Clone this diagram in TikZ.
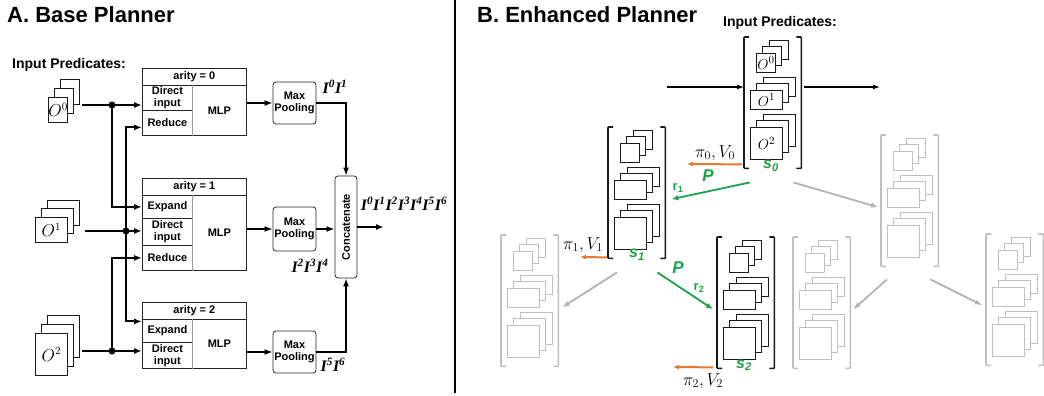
\documentclass[tikz,border=0pt]{standalone}
\usepackage{fontspec}
\setmainfont{Liberation Sans}
\newfontfamily\timesfont{Liberation Serif}
\usetikzlibrary{positioning, arrows.meta, shapes}
\definecolor{plangreen}{HTML}{1AA34A}
\definecolor{planorange}{HTML}{E6782F}
\tikzstyle{arrow} = [line width=2pt,-{Latex[length=8pt,width=6pt]}]

% a pile of three predicate sheets
\newcommand{\pagestack}[9]{%
  \foreach \k in {2,1} {
    \draw[#1, page] ({#3+\k*#7},{#4-\k*#8}) rectangle ++(#5,#6);
  }
  \node[#1, page, anchor=north west, minimum width=#5, minimum height=#6] (#2) at ({#3},{#4}) {#9};
}

% a state: brackets round three piles
\newcommand{\statebox}[7]{%
  \node[inner sep=0, minimum width=57, minimum height=131, anchor=north west] (#2) at ({#3},{#4}) {};
  \draw[#1, bracket] ([xshift=5pt]#2.north west) -- (#2.north west) -- (#2.south west) -- ([xshift=5pt]#2.south west);
  \draw[#1, bracket] ([xshift=-5pt]#2.north east) -- (#2.north east) -- (#2.south east) -- ([xshift=-5pt]#2.south east);
  \pagestack{#1}{#2a}{#3+12}{#4+16}{19}{19}{6.5}{6.5}{#5}
  \pagestack{#1}{#2b}{#3+6}{#4+53}{32}{19}{6.5}{6.5}{#6}
  \pagestack{#1}{#2c}{#3+6}{#4+90}{32}{32}{6.5}{6.5}{#7}
}

\begin{document}
\begin{tikzpicture}[x=1pt, y=-1pt, font=\bfseries\fontsize{11}{12}\selectfont]
    \tikzstyle{cell} = [draw=black!85, line width=0.8pt, inner sep=0, anchor=north west, align=center]
    \tikzstyle{pool} = [draw=black!85, line width=0.8pt, rounded corners=3pt, inner sep=0, minimum width=43, minimum height=42, align=center]
    \tikzstyle{page} = [fill=white, line width=0.8pt, inner sep=0]
    \tikzstyle{bracket} = [line width=1.6pt, rounded corners=0.8pt]
    \tikzstyle{inA} = [draw=black!90, font=\fontsize{16}{16}\selectfont]
    \tikzstyle{bkstate} = [draw=black!90, font=\fontsize{15}{15}\selectfont]
    \tikzstyle{grstate} = [draw=gray!50]
    \tikzstyle{title} = [anchor=base west, inner sep=0, font=\bfseries\fontsize{22}{22}\selectfont]
    \tikzstyle{inlbl} = [anchor=base west, inner sep=0, font=\bfseries\fontsize{14}{14}\selectfont]
    \tikzstyle{ilabel} = [inner sep=0, font=\timesfont\bfseries\itshape\fontsize{16}{16}\selectfont]
    \tikzstyle{mathlbl} = [inner sep=0, font=\fontsize{17}{17}\selectfont]
    \tikzstyle{plbl} = [inner sep=0, text=plangreen, font=\bfseries\itshape\fontsize{17}{17}\selectfont]
    \tikzstyle{slbl} = [inner sep=0, text=plangreen, font=\bfseries\itshape\fontsize{16}{16}\selectfont]
    \tikzstyle{rlbl} = [inner sep=0, text=plangreen, font=\bfseries\fontsize{13}{13}\selectfont]
    \tikzstyle{barrow} = [line width=1.2pt, -{Latex[length=7pt,width=5pt]}]
    \tikzstyle{oarrow} = [planorange, line width=2pt, -{Latex[length=6pt,width=5pt]}]
    \tikzstyle{garrow} = [plangreen, line width=1.8pt, -{Latex[length=7pt,width=5.5pt]}]
    \tikzstyle{grarrow} = [gray!60, line width=1.8pt, -{Latex[length=7pt,width=5.5pt]}]

    \useasboundingbox (0,0) rectangle (1044,396);

    % A. base planner
    \node[title] (titleA) at (7,23) {A. Base Planner};
    \node[inlbl] (inpA) at (12,69) {Input Predicates:};

    \pagestack{inA}{o0}{48}{97}{19}{25}{6}{9}{$O^0$}
    \pagestack{inA}{o1}{35}{217}{32}{25}{6.3}{8.5}{$O^1$}
    \pagestack{inA}{o2}{35}{333}{32}{42}{6.3}{8.7}{$O^2$}

    \node[cell, minimum width=104, minimum height=17] (h0) at (142,68) {arity = 0};
    \node[cell, minimum width=50, minimum height=25] (di0) at (142,85) {Direct\\input};
    \node[cell, minimum width=50, minimum height=25] (rd0) at (142,110) {Reduce};
    \node[cell, minimum width=54, minimum height=50] (mlp0) at (192,85) {MLP};

    \node[cell, minimum width=104, minimum height=17] (h1) at (142,178) {arity = 1};
    \node[cell, minimum width=50, minimum height=23] (ex1) at (142,195) {Expand};
    \node[cell, minimum width=50, minimum height=27] (di1) at (142,218) {Direct\\input};
    \node[cell, minimum width=50, minimum height=25] (rd1) at (142,245) {Reduce};
    \node[cell, minimum width=54, minimum height=75] (mlp1) at (192,195) {MLP};

    \node[cell, minimum width=104, minimum height=17] (h2) at (142,302) {arity = 2};
    \node[cell, minimum width=50, minimum height=23] (ex2) at (142,319) {Expand};
    \node[cell, minimum width=50, minimum height=26] (di2) at (142,342) {Direct\\input};
    \node[cell, minimum width=54, minimum height=49] (mlp2) at (192,319) {MLP};

    \foreach \m in {mlp0,mlp1,mlp2}
        \draw[gray!80, line width=1pt] (\m.north west) -- (\m.south west);

    \node[pool] (mp0) at (294.5,103) {Max\\Pooling};
    \node[pool, minimum height=44] (mp1) at (294.5,229) {Max\\Pooling};
    \node[pool] (mp2) at (294.5,352) {Max\\Pooling};
    \node[pool, minimum width=22, minimum height=102] (cat) at (346,227) {\rotatebox{90}{Concatenate}};

    \coordinate (i0) at (82,105);
    \coordinate (i1) at (85,231);
    \coordinate (i2) at (82,351);
    \coordinate (d0) at (112,105);
    \coordinate (d1) at (126,231);
    \coordinate (d2) at (112,351);
    \coordinate (catout) at (384,227);

    \draw[arrow] (i0) -- (di0.west |- i0);
    \draw[arrow] (d0) |- (ex1.west);
    \draw[arrow] (i1) -- (di1.west |- i1);
    \draw[arrow] (d1) |- ([yshift=-4.5pt]rd0.west);
    \draw[arrow] (d1) |- ([yshift=9.5pt]ex2.west);
    \draw[arrow] (i2) -- (di2.west |- i2);
    \draw[arrow] (d2) |- (rd1.west);
    \foreach \d in {d0,d1,d2}
        \fill (\d) circle (3.5pt);

    \draw[arrow] (mlp0.east |- mp0) -- (mp0.west);
    \draw[arrow] (mlp1.east |- mp1) -- (mp1.west);
    \draw[arrow] (mlp2.east |- mp2) -- (mp2.west);
    \draw[arrow] (mp0.east) -| (cat.north);
    \draw[arrow] (mp1.east) -- (cat.west |- mp1);
    \draw[arrow] (mp2.east) -| (cat.south);
    \draw[arrow] (cat.east) -- (catout);

    \node[ilabel] (lab0) at (335,87) {I\textsuperscript{0}I\textsuperscript{1}};
    \node[ilabel] (lab1) at (310,266) {I\textsuperscript{2}I\textsuperscript{3}I\textsuperscript{4}};
    \node[ilabel] (lab2) at (333,365) {I\textsuperscript{5}I\textsuperscript{6}};
    \node[ilabel] (labout) at (404,204) {I\textsuperscript{0}I\textsuperscript{1}I\textsuperscript{2}I\textsuperscript{3}I\textsuperscript{4}I\textsuperscript{5}I\textsuperscript{6}};

    \draw[line width=1.4pt] (455,0) -- (455,393);

    % B. enhanced planner
    \node[title] (titleB) at (477,23) {B. Enhanced Planner};
    \node[inlbl] (inpB) at (723,27) {Input Predicates:};

    \statebox{bkstate}{s0}{744}{37}{$O^0$}{$O^1$}{$O^2$}
    \statebox{bkstate}{s1}{608}{127}{}{}{}
    \statebox{bkstate}{s2}{717}{237}{}{}{}
    \statebox{grstate}{g1}{501}{235}{}{}{}
    \statebox{grstate}{g2}{793}{237}{}{}{}
    \statebox{grstate}{g3}{881}{135}{}{}{}
    \statebox{grstate}{g4}{986}{234}{}{}{}

    \coordinate (bin) at (667,87);
    \coordinate (bout) at (880,87);
    \draw[barrow] (bin) -- (s0.west |- bin);
    \draw[barrow, shorten <=3pt] (s0.east |- bout) -- (bout);

    \coordinate (pv0) at (687,164);
    \coordinate (pv1) at (580,257);
    \coordinate (pv2) at (673,367);
    \draw[oarrow] ([shift={(-2,-4)}]s0.south west) -- (pv0);
    \draw[oarrow] ([shift={(-1,-1)}]s1.south west) -- (pv1);
    \draw[oarrow] ([shift={(-4,-1)}]s2.south west) -- (pv2);

    \draw[garrow] ([shift={(6,14)}]s0.south west) -- ([shift={(6,6.5)}]s1.east);
    \draw[garrow] ([shift={(-8,14)}]s1.south east) -- ([shift={(-4,6.5)}]s2.west);

    \draw[grarrow] ([shift={(-8,14)}]s0.south east) -- ([shift={(-3,6.5)}]g3.west);
    \draw[grarrow] ([shift={(9,14)}]s1.south west) -- ([shift={(4,6.5)}]g1.east);
    \draw[grarrow] ([shift={(6,13)}]g3.south west) -- ([shift={(3,6.5)}]g2.east);
    \draw[grarrow] ([shift={(-8,13)}]g3.south east) -- ([shift={(-4,5.5)}]g4.west);

    \node[mathlbl] (pi0) at (715,153) {$\pi_0, V_0$};
    \node[mathlbl] (pi1) at (583,245) {$\pi_1, V_1$};
    \node[mathlbl] (pi2) at (703,381) {$\pi_2, V_2$};
    \node[plbl] (p0) at (708,176) {P};
    \node[plbl] (p1) at (678,268) {P};
    \node[rlbl] (rw1) at (678,188) {r\textsubscript{1}};
    \node[rlbl] (rw2) at (699,288) {r\textsubscript{2}};
    \node[slbl] (s0lab) at (771,166) {s\textsubscript{0}};
    \node[slbl] (s1lab) at (637,255) {s\textsubscript{1}};
    \node[slbl] (s2lab) at (744,365) {s\textsubscript{2}};
\end{tikzpicture}
\end{document}
